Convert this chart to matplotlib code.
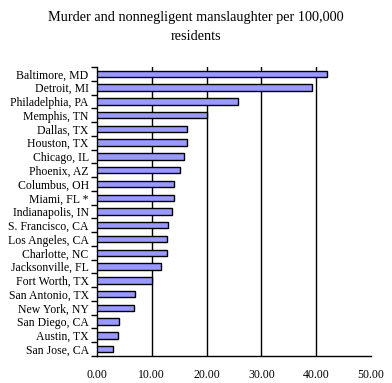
import numpy as np
import matplotlib
matplotlib.use("Agg")
import matplotlib.pyplot as plt

# ── DATA ────────────────────────────────────────────────────────────
cities = [
    "Baltimore, MD", "Detroit, MI", "Philadelphia, PA", "Memphis, TN",
    "Dallas, TX", "Houston, TX", "Chicago, IL", "Phoenix, AZ",
    "Columbus, OH", "Miami, FL *", "Indianapolis, IN", "S. Francisco, CA",
    "Los Angeles, CA", "Charlotte, NC", "Jacksonville, FL", "Fort Worth, TX",
    "San Antonio, TX", "New York, NY", "San Diego, CA", "Austin, TX",
    "San Jose, CA",
]
rates = [
    42.0, 39.3, 25.7, 20.1,
    16.4, 16.4, 15.8, 15.2,
    14.1, 14.1, 13.6, 12.9,
    12.7, 12.7, 11.6, 10.0,
    7.0, 6.7, 4.1, 3.9,
    3.0,
]
x_ticks = [0, 10, 20, 30, 40, 50]
title = "Murder and nonnegligent manslaughter per 100,000\nresidents"
# ────────────────────────────────────────────────────────────────────

plt.rcParams["font.family"] = ["Liberation Serif", "DejaVu Serif"]

fig = plt.figure(figsize=(3.92, 3.83), dpi=100)
ax = fig.add_axes([97 / 392, 1 - 356 / 383, 274 / 392, 289 / 383])

y = np.arange(len(cities))
ax.barh(y, rates, height=0.47, color="#9999ff", edgecolor="black", lw=1, zorder=3)

ax.set_ylim(len(cities) - 0.5, -0.5)
ax.set_yticks(y)
ax.set_yticklabels(cities, fontsize=8.5)
ax.set_yticks(np.arange(len(cities) + 1) - 0.5, minor=True)
ax.tick_params(axis="y", which="major", length=0, pad=6)
ax.tick_params(axis="y", which="minor", length=4, width=1, direction="out")

ax.set_xlim(0, 50)
ax.set_xticks(x_ticks)
ax.set_xticklabels([f"{v:.2f}" for v in x_ticks], fontsize=8.5)
ax.tick_params(axis="x", length=0, pad=9)
for v in x_ticks[1:-1]:
    ax.axvline(v, color="black", lw=1, zorder=1)

for s in ["top", "right"]:
    ax.spines[s].set_visible(False)
ax.spines["left"].set_linewidth(1)
ax.spines["bottom"].set_linewidth(1)

fig.text(0.5, 1 - 27 / 383, title, ha="center", va="center", fontsize=10.3,
         linespacing=1.6)

plt.savefig("out.png", dpi=100)
plt.close()
